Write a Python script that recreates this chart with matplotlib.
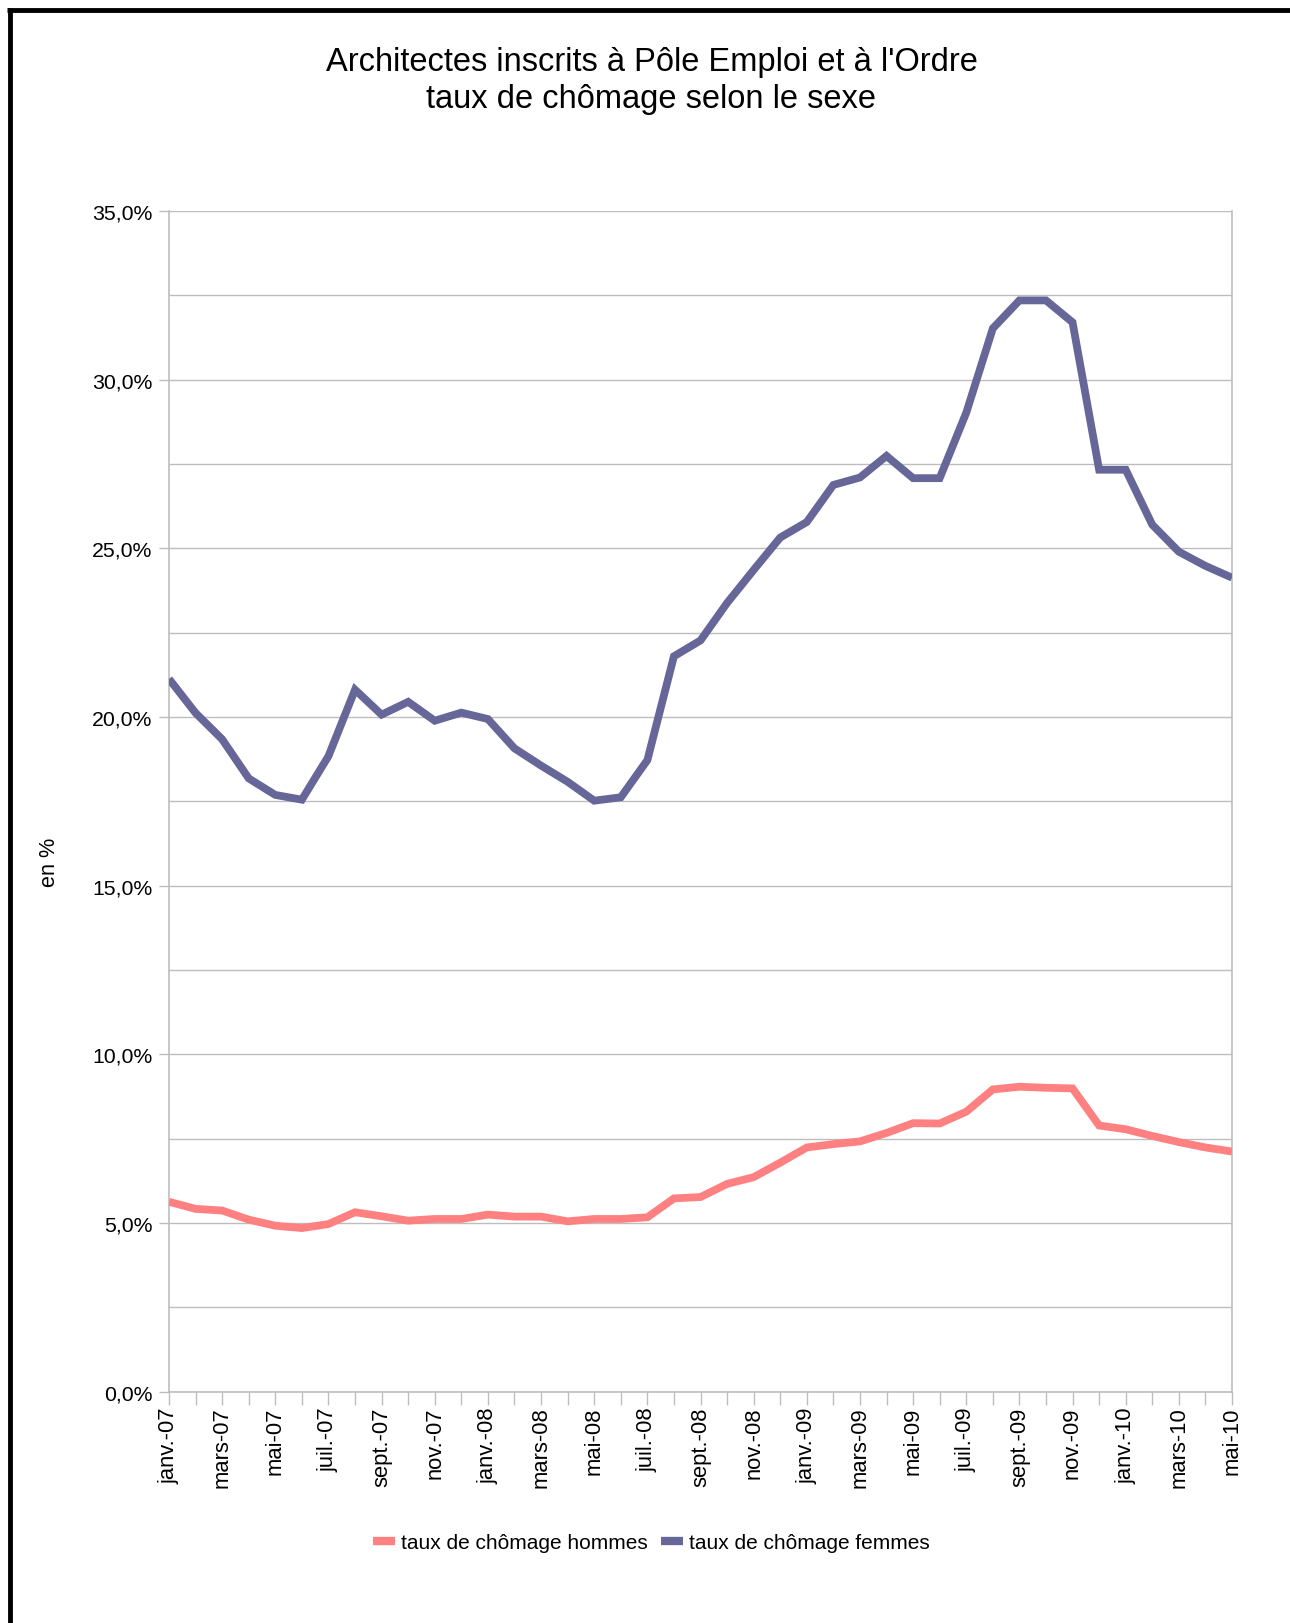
import matplotlib
matplotlib.use("Agg")
import matplotlib.pyplot as plt
from matplotlib.lines import Line2D
from matplotlib.ticker import FuncFormatter, MultipleLocator
import numpy as np

plt.rcParams['font.family'] = ['Liberation Sans', 'DejaVu Sans']

months = ["janv.", "févr.", "mars", "avr.", "mai", "juin", "juil.", "août",
          "sept.", "oct.", "nov.", "déc."]
years = ["07", "08", "09", "10"]
categories = [f"{m}-{y}" for y in years for m in months][:41]  # janv.-07 .. mai-10

hommes = [5.63, 5.42, 5.37, 5.10, 4.92, 4.85, 4.97, 5.32, 5.20, 5.07,
          5.12, 5.12, 5.25, 5.19, 5.19, 5.05, 5.12, 5.12, 5.17, 5.73,
          5.77, 6.16, 6.36, 6.79, 7.24, 7.34, 7.42, 7.67, 7.96, 7.95,
          8.30, 8.96, 9.04, 9.01, 8.99, 7.89, 7.78, 7.58, 7.40, 7.24,
          7.12]
femmes = [21.13, 20.12, 19.34, 18.18, 17.69, 17.55, 18.84, 20.81, 20.07, 20.45,
          19.89, 20.13, 19.94, 19.07, 18.56, 18.08, 17.52, 17.62, 18.72, 21.80,
          22.27, 23.38, 24.36, 25.32, 25.78, 26.88, 27.10, 27.74, 27.08, 27.08,
          29.02, 31.52, 32.35, 32.35, 31.70, 27.33, 27.33, 25.70, 24.90, 24.48,
          24.13]

series_names = ["taux de chômage hommes", "taux de chômage femmes"]
colors = ["#ff8080", "#666699"]

W, H = 1290, 1624
fig = plt.figure(figsize=(W / 100, H / 100), dpi=100)
fig.patch.set_facecolor("white")

ax = fig.add_axes([169 / W, 1 - 1392.7 / H, (1232 - 169) / W, (1392.7 - 212) / H])
x = np.arange(len(categories))
grid_c = "#bdbdbd"

for vals, c in zip([hommes, femmes], colors):
    ax.plot(x, vals, color=c, lw=5.6, solid_joinstyle="miter",
            solid_capstyle="butt", zorder=3)

ax.set_xlim(0, len(categories) - 1)
ax.set_ylim(0, 35)
ax.yaxis.set_major_locator(MultipleLocator(5))
ax.yaxis.set_minor_locator(MultipleLocator(2.5))
ax.yaxis.set_major_formatter(FuncFormatter(lambda v, p: f"{v:.1f}%".replace(".", ",")))
ax.grid(True, axis="y", which="both", color=grid_c, lw=1.0, zorder=1)
ax.set_axisbelow(True)

ax.set_xticks(x)
ax.set_xticklabels([lab if i % 2 == 0 else "" for i, lab in enumerate(categories)],
                   rotation=90, va="top", ha="center")

ax.tick_params(axis="y", which="major", length=7, width=1.0, color=grid_c,
               pad=5, labelsize=15.3, labelcolor="black")
ax.tick_params(axis="y", which="minor", length=0)
ax.tick_params(axis="x", which="major", length=9, width=1.0, color=grid_c,
               pad=1.5, labelsize=15.8, labelcolor="black")

for side in ["left", "bottom", "right"]:
    ax.spines[side].set_color(grid_c)
    ax.spines[side].set_linewidth(1.2)
ax.spines["top"].set_visible(False)

# title
fig.text(0.505, 1 - 71.5 / H, "Architectes inscrits à Pôle Emploi et à l'Ordre",
         ha="center", va="baseline", fontsize=23.5)
fig.text(0.505, 1 - 108 / H, "taux de chômage selon le sexe",
         ha="center", va="baseline", fontsize=23.5)

# y label
fig.text(49.7 / W, 1 - 862 / H, "en %", rotation=90, ha="center", va="center",
         fontsize=15.6)

# legend
handles = [Line2D([0], [0], color=c, lw=6, solid_capstyle="butt") for c in colors]
fig.legend(handles, series_names, loc="center", bbox_to_anchor=(0.505, 1 - 1544 / H),
           ncol=2, frameon=False, fontsize=15, handlelength=1.05,
           handletextpad=0.3, columnspacing=0.65)

# black frame on left and top (screenshot border)
fig.add_artist(Line2D([9.5 / W, 9.5 / W], [0, 1 - 9 / H], color="black", lw=3.5,
                      transform=fig.transFigure, solid_capstyle="butt"))
fig.add_artist(Line2D([7 / W, 1], [1 - 11 / H, 1 - 11 / H], color="black", lw=3.5,
                      transform=fig.transFigure, solid_capstyle="butt"))

fig.savefig("out.png", dpi=100, facecolor="white")
